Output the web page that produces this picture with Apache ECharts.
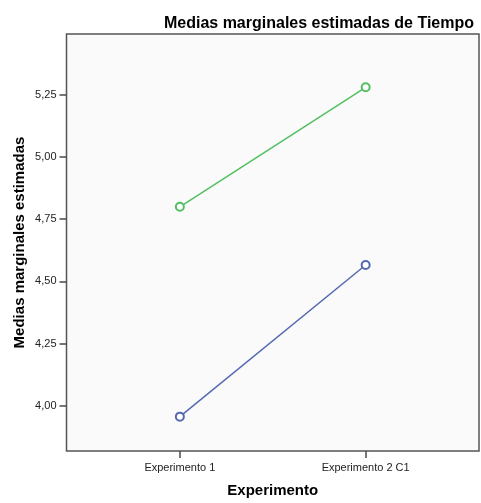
<!DOCTYPE html>
<html><head><meta charset="utf-8">
<script src="https://cdn.jsdelivr.net/npm/echarts@6/dist/echarts.min.js"></script>
<style>html,body{margin:0;padding:0;background:#fff}#c{width:481px;height:503px}</style>
</head><body><div id="c"></div>
<script>
const categories = ['Experimento 1', 'Experimento 2 C1'];
const seriesGreen = [4.800, 5.280];
const seriesBlue = [3.957, 4.566];
const yTicks = [4.00, 4.25, 4.50, 4.75, 5.00, 5.25];

const fam = '"Liberation Sans", Arial, sans-serif';
const chart = echarts.init(document.getElementById('c'), null, {renderer: 'canvas'});
const toPts = arr => arr.map((v, i) => [i, v]);
chart.setOption({
  animation: false,
  title: {
    text: 'Medias marginales estimadas de Tiempo',
    right: 2, top: 11,
    textStyle: {fontFamily: fam, fontSize: 16, fontWeight: 'bold', color: '#000'}
  },
  grid: {
    left: 66.5, right: 2, top: 34, bottom: 52,
    show: true, backgroundColor: '#fafafa', borderColor: '#555', borderWidth: 1.5
  },
  xAxis: {
    type: 'value', min: -0.61, max: 1.61,
    name: 'Experimento', nameLocation: 'middle', nameGap: 32,
    nameTextStyle: {fontFamily: fam, fontSize: 15, fontWeight: 'bold', color: '#000'},
    axisLine: {show: false, onZero: false},
    splitLine: {show: false},
    axisTick: {show: true, customValues: [0, 1], length: 7, lineStyle: {color: '#4a4a4a', width: 1.5}},
    axisLabel: {customValues: [0, 1], formatter: v => categories[Math.round(v)] || '', fontFamily: fam, fontSize: 11, color: '#222', margin: 11}
  },
  yAxis: {
    type: 'value', min: 3.819, max: 5.494,
    name: 'Medias marginales estimadas', nameLocation: 'middle', nameGap: 39, nameRotate: 90,
    nameMoveOverlap: false,
    nameTextStyle: {fontFamily: fam, fontSize: 15, fontWeight: 'bold', color: '#000'},
    axisLine: {show: false, onZero: false},
    splitLine: {show: false},
    axisTick: {show: true, customValues: yTicks, length: 7, lineStyle: {color: '#4a4a4a', width: 1.5}},
    axisLabel: {customValues: yTicks, formatter: v => v.toFixed(2).replace('.', ','), fontFamily: fam, fontSize: 11, color: '#222', margin: 10}
  },
  series: [
    {type: 'line', data: toPts(seriesGreen), symbol: 'emptyCircle', symbolSize: 8,
     lineStyle: {color: '#52bf63', width: 1.5}, itemStyle: {color: '#52bf63', borderWidth: 1.5}},
    {type: 'line', data: toPts(seriesBlue), symbol: 'emptyCircle', symbolSize: 8,
     lineStyle: {color: '#5469b2', width: 1.5}, itemStyle: {color: '#5469b2', borderWidth: 1.5}}
  ]
});
</script></body></html>
